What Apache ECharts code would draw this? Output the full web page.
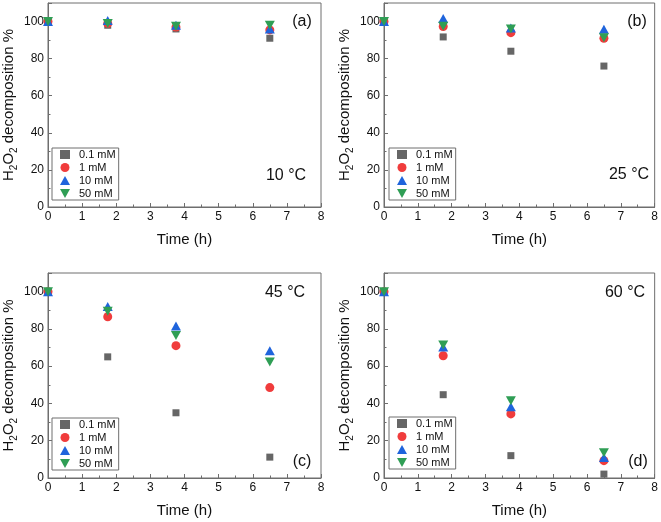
<!DOCTYPE html>
<html><head><meta charset="utf-8">
<script src="https://cdn.jsdelivr.net/npm/echarts@6/dist/echarts.min.js"></script>
<style>html,body{margin:0;padding:0;background:#fff}#c{width:661px;height:522px}</style>
</head><body><div id="c"></div>
<script>
// ---- data ----
const times = [0, 1.75, 3.75, 6.5];
const seriesNames = ['0.1 mM', '1 mM', '10 mM', '50 mM'];
const panelTemps = ['10 °C', '25 °C', '45 °C', '60 °C'];
const panelLetters = ['(a)', '(b)', '(c)', '(d)'];
const xTickValues = [0, 1, 2, 3, 4, 5, 6, 7, 8];
const yTickValues = [0, 20, 40, 60, 80, 100];

// 10 °C
const t10_01mM = [100, 98, 96, 91];
const t10_1mM  = [100, 99, 97, 95.5];
const t10_10mM = [100, 100.5, 98, 96];
const t10_50mM = [100, 99, 97.5, 98];
// 25 °C
const t25_01mM = [100, 91.7, 84, 76];
const t25_1mM  = [100, 97.3, 94, 91];
const t25_10mM = [100, 101.7, 96.5, 95.8];
const t25_50mM = [100, 97.5, 96, 91.3];
// 45 °C
const t45_01mM = [100, 65, 35, 11.2];
const t45_1mM  = [100, 86.5, 71, 48.5];
const t45_10mM = [100, 92, 81.5, 68.3];
const t45_50mM = [100, 89.5, 76.5, 62.2];
// 60 °C
const t60_01mM = [100, 44.7, 12, 2.1];
const t60_1mM  = [100, 65.6, 34.4, 9.3];
const t60_10mM = [100, 70.3, 38.2, 11];
const t60_50mM = [100, 71.4, 41.5, 13.6];

const panelData = [
  [t10_01mM, t10_1mM, t10_10mM, t10_50mM],
  [t25_01mM, t25_1mM, t25_10mM, t25_50mM],
  [t45_01mM, t45_1mM, t45_10mM, t45_50mM],
  [t60_01mM, t60_1mM, t60_10mM, t60_50mM]
];

// ---- styles ----
const FONT = '"Liberation Sans", Arial, sans-serif';
const AX = '#6e6e6e';
const colors = ['#666666', '#f03c3c', '#1f64dc', '#2f9e55'];
const DOWN_TRI = 'path://M0,0L10,0L5,9Z';
const UP_TRI = 'path://M5,0L10,9L0,9Z';
const symbols = ['rect', 'circle', UP_TRI, DOWN_TRI];
const symSizes = [7, 9, [10, 9], [10, 9]];
const legendIcons = ['rect', 'circle', UP_TRI, DOWN_TRI];

const grids = [
  {left: 48, top: 3, width: 273, height: 204},
  {left: 384, top: 3, width: 272, height: 204},
  {left: 48, top: 273, width: 273, height: 205},
  {left: 384, top: 273, width: 272, height: 205}
];
const legendPos = [
  {left: 52, top: 148}, {left: 389, top: 148},
  {left: 52, top: 418}, {left: 389, top: 417}
];
const tempPos = [[286, 176], [629, 175], [285, 293], [625, 293]];
const letterPos = [[302, 22], [637, 22], [302, 462], [638, 462]];

const option = {
  animation: false,
  textStyle: {fontFamily: FONT},
  grid: grids.map(g => Object.assign({show: true, borderColor: AX, borderWidth: 1, containLabel: false}, g)),
  xAxis: grids.map((g, i) => ({
    gridIndex: i, type: 'value', min: xTickValues[0], max: xTickValues[xTickValues.length - 1], interval: 1,
    name: 'Time (h)', nameLocation: 'middle', nameGap: 25,
    nameTextStyle: {fontSize: 15, color: '#111', fontFamily: FONT},
    axisLine: {show: true, lineStyle: {color: AX, width: 1}},
    axisTick: {show: true, inside: true, length: 4, lineStyle: {color: AX}},
    minorTick: {show: true, splitNumber: 2, length: 2.5, lineStyle: {color: AX}},
    axisLabel: {fontSize: 12, color: '#111', margin: 4, fontFamily: FONT},
    splitLine: {show: false}
  })),
  yAxis: grids.map((g, i) => ({
    gridIndex: i, type: 'value', min: 0, max: 110, interval: 20,
    name: '{m|H}{s|2}{m|O}{s|2}{m| decomposition %}', nameLocation: 'middle', nameGap: 29,
    nameTextStyle: {
      color: '#111', fontFamily: FONT,
      rich: {
        m: {fontSize: 15, lineHeight: 20, fontFamily: FONT, color: '#111'},
        s: {fontSize: 10, lineHeight: 10, verticalAlign: 'bottom', fontFamily: FONT, color: '#111'}
      }
    },
    axisLine: {show: true, lineStyle: {color: AX, width: 1}},
    axisTick: {show: true, inside: true, length: 4, lineStyle: {color: AX}},
    minorTick: {show: true, splitNumber: 2, length: 2.5, lineStyle: {color: AX}},
    axisLabel: {fontSize: 12, color: '#111', margin: 4, fontFamily: FONT,
      formatter: v => (yTickValues.indexOf(v) >= 0 ? String(v) : '')},
    splitLine: {show: false}
  })),
  legend: legendPos.map(p => ({
    left: p.left, top: p.top, orient: 'vertical',
    data: seriesNames.map((n, k) => ({name: n, icon: legendIcons[k]})),
    borderColor: AX, borderWidth: 1, borderRadius: 0,
    padding: [1, 3, 1, 8], itemGap: 2, itemWidth: 10, itemHeight: 9,
    symbolKeepAspect: true,
    textStyle: {fontSize: 11, color: '#111', fontFamily: FONT, padding: [0, 0, 0, 4]},
    selectedMode: false
  })),
  series: [],
  graphic: []
};

panelData.forEach((panel, pi) => {
  panel.forEach((vals, si) => {
    option.series.push({
      type: 'scatter', name: seriesNames[si],
      xAxisIndex: pi, yAxisIndex: pi,
      symbol: symbols[si], symbolSize: symSizes[si],
      itemStyle: {color: colors[si], opacity: 1},
      data: times.map((t, k) => [t, vals[k]]),
      z: 2 + si
    });
  });
  option.graphic.push({
    type: 'text', x: tempPos[pi][0], y: tempPos[pi][1],
    style: {text: panelTemps[pi], fontSize: 16, fontFamily: FONT, fill: '#111', align: 'center', verticalAlign: 'middle'}
  });
  option.graphic.push({
    type: 'text', x: letterPos[pi][0], y: letterPos[pi][1],
    style: {text: panelLetters[pi], fontSize: 16, fontFamily: FONT, fill: '#111', align: 'center', verticalAlign: 'middle'}
  });
});

const chart = echarts.init(document.getElementById('c'), null, {renderer: 'canvas'});
chart.setOption(option);
</script>
</body></html>
